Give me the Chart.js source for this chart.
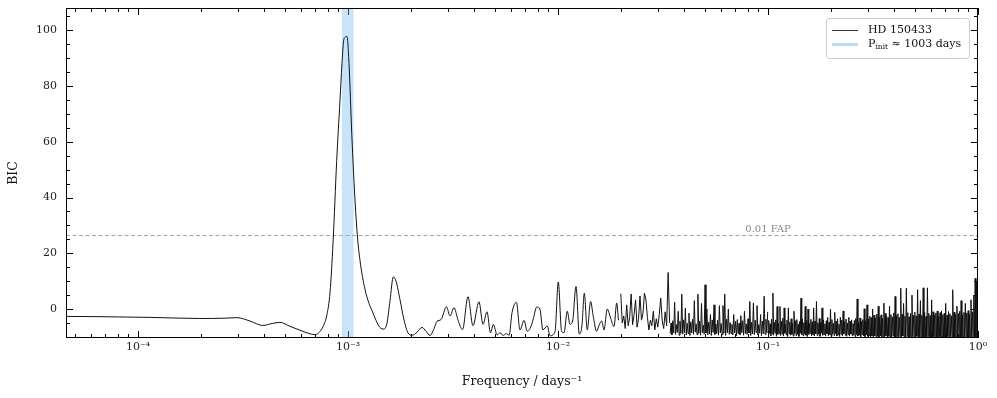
<!DOCTYPE html>
<html><head><meta charset="utf-8">
<script src="https://cdn.jsdelivr.net/npm/chart.js@4.4.0/dist/chart.umd.min.js"></script>
<style>html,body{margin:0;padding:0;background:#fff;}#wrap{width:997px;height:398px;position:relative;}</style>
</head><body><div id="wrap"><canvas id="c"></canvas></div>
<script>
// ---------- data ----------
const seriesName = 'HD 150433';
const bandLabelMain = 'P', bandLabelSub = 'init', bandLabelRest = ' \u2248 1003 days';
const bandLow = 9.35e-4, bandHigh = 1.063e-3;
const fapLevel = 26.6;
const fapLabel = '0.01 FAP';
const fapLabelFreq = 0.1;
const xTickValues = [1e-4, 1e-3, 1e-2, 1e-1, 1];
const xTickLabels = ['10\u207B\u2074', '10\u207B\u00B3', '10\u207B\u00B2', '10\u207B\u00B9', '10\u2070'];
const yTickValues = [0, 20, 40, 60, 80, 100];
const xTitle = 'Frequency / days\u207B\u00B9';
const yTitle = 'BIC';

const freqLow = [4.54e-5,6.59e-5,1.14e-4,1.97e-4,2.59e-4,2.96e-4,3.41e-4,3.93e-4,4.35e-4,4.74e-4,5.29e-4,5.90e-4,6.46e-4,6.97e-4,7.36e-4,7.69e-4,7.94e-4,8.21e-4,8.49e-4,8.83e-4,9.16e-4,9.36e-4,9.52e-4,9.68e-4,9.89e-4,1.011e-3,1.042e-3,1.069e-3,1.107e-3,1.140e-3,1.205e-3,1.259e-3,1.300e-3,1.358e-3,1.419e-3,1.483e-3,1.534e-3,1.585e-3,1.643e-3,1.693e-3,1.769e-3,1.849e-3,1.932e-3,2.018e-3,2.133e-3,2.251e-3,2.352e-3,2.458e-3,2.569e-3,2.654e-3,2.773e-3,2.944e-3,3.061e-3,3.197e-3,3.341e-3,3.51e-3,3.727e-3,3.935e-3,4.204e-3,4.393e-3,4.590e-3,4.77e-3,4.92e-3,5.13e-3,5.30e-3,5.48e-3,5.66e-3,5.85e-3,6.04e-3,6.34e-3,6.59e-3,6.89e-3,7.14e-3,7.36e-3,7.60e-3,7.92e-3,8.20e-3,8.47e-3,8.89e-3,9.16e-3,9.68e-3,1.003e-2,1.040e-2,1.068e-2,1.107e-2,1.140e-2,1.174e-2,1.218e-2,1.263e-2,1.30e-2,1.334e-2,1.378e-2,1.430e-2,1.472e-2,1.527e-2,1.566e-2,1.614e-2,1.656e-2,1.716e-2,1.781e-2,1.848e-2,1.903e-2,1.941e-2];
const bicLow = [-2.65,-2.75,-3.0,-3.4,-3.3,-3.1,-4.3,-5.9,-5.2,-4.8,-6.2,-7.6,-8.7,-9.2,-8.0,-5.5,-2,6,24,53,75,88,96,97.5,97.8,88,63,45,26.6,17.5,7,2,-0.5,-4,-6.6,-7.2,-5,3,11.5,10,3.3,-4,-8.6,-9.4,-8.3,-6.6,-8,-9.5,-7,-4.4,-3.8,0.8,-2.5,0.5,-4,-7.4,4.4,-6,2.6,-5.5,-1,-8.5,-5.5,-9.3,-8.5,-9.5,-8.8,-9.4,-1.3,2.4,-7.5,-4.1,-8,-7,-4,0.7,0,-7.5,-6.1,-9.6,-8,9.7,-8,-8.5,-0.8,-5.5,-4.3,8.1,-9,-6,5.7,-7.5,2.7,-2.7,-8,-6,-4.3,-7.5,0,-3.3,-6.3,2.1,-4];

// denser parts: values read on an even log-frequency grid
const freqSpikeStart = 0.0199, freqSpikeEnd = 0.0340;
const bicSpike = [5.5,-5,-2.5,-7,1.5,-6,-3,5.4,-5.6,-2,3.3,-6.5,-3.5,4.7,-4,-1.5,5.7,3.3,-3,-7.5,-4,-6,-0.8,-7.5,-3.5,-6.5,-2,3.9,-4.3,-7,-1,-6,13.1,-5];
const freqMidStart = 0.0342, freqMidEnd = 0.0997;
const bicMid = [
-8.8,-5,-9.3,-4.2,-8.6,2.4,-9.1,-5.6,-8.4,-0.8,
-9.4,-4.4,-8.7,5.3,-9,-3.9,-8.5,0.3,-9.3,-5.1,
-8.8,-1.5,-9.5,-4.6,-8.6,-3.7,-9.1,3,-8.3,-5.3,
-9.2,5.3,-8.7,-4.3,-9.4,2,-8.5,-5.8,-9,8.7,
-8.6,0,-9.3,-4.7,-8.9,-2,-9.5,-3.9,-8.4,1.5,
-9.1,-5.4,-8.8,-4.1,-9.4,1.2,-8.6,-5.2,-9.2,1.2,
-8.7,5.3,-9.5,-3.6,-8.5,0,-9.1,-4.9,-8.8,-5.5,
-9.3,-2,-8.6,-4.4,-9.6,-3.8,-8.9,-5.1,-9.2,-2.4,
-8.5,-4.2,-9.4,-0.8,-8.8,-5.3,-9.1,-3.5,-8.6,2.7,
-9.5,-4.7,-8.9,2.2,-9.2,-4,-8.4,1.2,-9.3,-5.6,
-8.7,-2,-9.6,-4.3,-8.9,4.6,-9.1,-3.7,-8.6,-1
];
const freqHighStart = 0.1, freqHighEnd = 1.0;
const bicHigh = [
-9.2,-4.1,-8.7,-5.3,-9.6,-3.6,-8.9,5.7,-9.4,-4.8,
-8.6,-3.9,-9.8,0.9,-9.1,-5.2,-8.8,0.9,-9.5,-4.4,
-9,-3.3,-9.7,0.4,-8.7,-5.6,-9.3,-4,-9.9,0.4,
-8.9,-4.7,-9.4,-3.5,-9.1,-5.1,-9.7,-0.8,-8.8,-4.2,
-9.5,-3.8,-9,-5.4,-9.8,-4.5,-8.7,3.9,-9.3,-3.6,
-9.6,-4.9,-8.9,0.9,-9.4,-4.1,-9.9,0,-9.1,-5.2,
-8.8,-3.7,-9.6,-4.6,-9.2,0.4,-9.7,-4.3,-8.9,2.7,
-9.5,-5,-9,-3.4,-9.8,-4.8,-8.7,0.4,-9.4,-3.9,
-9.1,-5.3,-9.7,-4.2,-8.9,-3,-9.6,-4.7,-9.2,-0.1,
-9.8,-3.8,-9,-5.1,-9.5,-1.2,-8.8,-4.4,-9.7,-3.5,
-9.3,-5.5,-9.9,-3,-9.1,-4,-9.6,-0.7,-8.9,-4.6,
-9.4,-3.6,-9.8,-5,-9.2,-3,-9.7,-4.3,-9,-3.9,
-9.6,-5.2,-9.3,-4.1,-9.9,-3.4,-9.1,3.6,-9.7,-4.8,
-9.4,-3.2,-10,-4.5,-9.2,-3.8,-9.6,0.1,-9.9,-4.2,
-9.3,1.5,-9.8,-3.5,-9.5,-2.6,-10.1,-3.1,-9.7,0,
-10.2,-2.2,-9.6,-3.3,-10,-1.8,-9.8,1,-10.3,-2.9,
-9.7,-2.1,-10.1,-3.4,-9.9,2.1,-10.3,-1.6,-9.6,-2.7,
-10.2,-3.1,-9.8,1,-10.1,-2,-10.4,-2.8,-9.7,-1.4,
-10,4.5,-10.3,-2.4,-9.8,-1.7,-10.2,-3,-9.9,7.5,
-10.4,-1.9,-9.7,2,-10.1,-2.6,-10.3,7.5,-9.8,-1.3,
-10.2,-2.8,-10,-1.5,-10.4,5,-9.9,-2.2,-10.1,-1.1,
-10.3,-2.5,-9.8,6.9,-10.2,-1.8,-10,3,-10.4,-2.3,
-9.9,7.6,-10.2,-1.2,-10.1,-2.7,-10.3,7.6,-9.8,-1.6,
-10.2,-2.4,-10,3.3,-10.4,-1,-9.9,-2.1,-10.3,-1.4,
-10.1,-0.7,-10.4,-2.6,-9.9,-1.3,-10.2,-0.7,-10,-2,
-10.4,-1.5,-10.1,2,-10.3,-2.2,-9.9,-0.9,-10.2,-1.7,
-10.4,-2.4,-10,6.9,-10.3,-1.1,-10.1,-2,-10.4,1,
-10.2,-1.6,-10,-0.8,-10.4,3,-10.1,-2.1,-10.3,-1.2,
-10,2,-10.4,-1.4,-10.2,-0.6,-10.3,-1.9,-10.1,3.3,
-10.4,-1,-10.2,5,-10.3,11,-10.1,9.8,-10.4,7
];

// ---------- build ----------
const FONT = "'DejaVu Serif', serif";
Chart.defaults.font.family = FONT;
function gridPoints(vals, f0, f1) {
  const a = Math.log10(f0), b = Math.log10(f1), n = vals.length;
  return vals.map((v, i) => ({x: Math.pow(10, a + i * (b - a) / (n - 1)), y: v}));
}
const lowPoints = freqLow.map((f, i) => ({x: f, y: bicLow[i]}));
const spikePoints = gridPoints(bicSpike, freqSpikeStart, freqSpikeEnd);
const midPoints = gridPoints(bicMid, freqMidStart, freqMidEnd);
const highPoints = gridPoints(bicHigh, freqHighStart, freqHighEnd);

const decor = {
  id: 'decor',
  beforeDatasetsDraw(chart) {
    const {ctx, chartArea: {left, right, top, bottom}, scales: {x, y}} = chart;
    ctx.save();
    ctx.strokeStyle = '#000'; ctx.lineWidth = 1;
    ctx.beginPath();
    const d0 = Math.floor(Math.log10(x.min)), d1 = Math.ceil(Math.log10(x.max));
    for (let d = d0; d <= d1; d++) {
      for (let k = 1; k <= 9; k++) {
        const v = k * Math.pow(10, d);
        if (v < x.min * 0.9999 || v > x.max * 1.0001) continue;
        const px = Math.round(x.getPixelForValue(v)) + 0.5;
        const len = k === 1 ? 7 : 4;
        ctx.moveTo(px, bottom); ctx.lineTo(px, bottom - len);
        ctx.moveTo(px, top); ctx.lineTo(px, top + len);
      }
    }
    for (let v = -10; v <= 105; v += 5) {
      const py = Math.round(y.getPixelForValue(v)) + 0.5;
      const len = (v % 20 === 0) ? 7 : 4;
      ctx.moveTo(left, py); ctx.lineTo(left + len, py);
      ctx.moveTo(right, py); ctx.lineTo(right - len, py);
    }
    ctx.stroke();
    const bx0 = x.getPixelForValue(bandLow), bx1 = x.getPixelForValue(bandHigh);
    ctx.fillStyle = 'rgba(117,187,242,0.4)';
    ctx.fillRect(bx0, top, bx1 - bx0, bottom - top);
    const fy = Math.round(y.getPixelForValue(fapLevel)) + 0.5;
    ctx.setLineDash([4, 2.5]);
    ctx.strokeStyle = '#a8a8a8';
    ctx.beginPath(); ctx.moveTo(left, fy); ctx.lineTo(right, fy); ctx.stroke();
    ctx.setLineDash([]);
    ctx.fillStyle = '#8a8a8a';
    ctx.font = '10px ' + FONT;
    ctx.textAlign = 'center'; ctx.textBaseline = 'bottom';
    ctx.fillText(fapLabel, x.getPixelForValue(fapLabelFreq), fy - 1.5);
    ctx.restore();
  },
  afterDatasetsDraw(chart) {
    const {ctx, chartArea: {left, right, top, bottom}} = chart;
    ctx.save();
    ctx.strokeStyle = '#000'; ctx.lineWidth = 1;
    ctx.strokeRect(left + 0.5, top + 0.5, right - left - 1, bottom - top - 1);
    const lx = 826, ly = 18, lw = 143, lh = 40, r = 3;
    ctx.fillStyle = 'rgba(255,255,255,0.85)';
    ctx.strokeStyle = '#cccccc';
    ctx.beginPath();
    ctx.moveTo(lx + r, ly + 0.5); ctx.lineTo(lx + lw - r, ly + 0.5);
    ctx.arcTo(lx + lw + 0.5, ly + 0.5, lx + lw + 0.5, ly + r, r);
    ctx.lineTo(lx + lw + 0.5, ly + lh - r);
    ctx.arcTo(lx + lw + 0.5, ly + lh + 0.5, lx + lw - r, ly + lh + 0.5, r);
    ctx.lineTo(lx + r, ly + lh + 0.5);
    ctx.arcTo(lx + 0.5, ly + lh + 0.5, lx + 0.5, ly + lh - r, r);
    ctx.lineTo(lx + 0.5, ly + r);
    ctx.arcTo(lx + 0.5, ly + 0.5, lx + r, ly + 0.5, r);
    ctx.closePath(); ctx.fill(); ctx.stroke();
    ctx.strokeStyle = '#333'; ctx.lineWidth = 1;
    ctx.beginPath(); ctx.moveTo(832, 30.5); ctx.lineTo(858, 30.5); ctx.stroke();
    ctx.strokeStyle = 'rgb(190,222,248)'; ctx.lineWidth = 3;
    ctx.beginPath(); ctx.moveTo(832, 44.5); ctx.lineTo(858, 44.5); ctx.stroke();
    ctx.fillStyle = '#111'; ctx.textBaseline = 'middle'; ctx.textAlign = 'left';
    ctx.font = '11px ' + FONT;
    ctx.fillText(seriesName, 868, 30.5);
    let tx = 868;
    ctx.fillText(bandLabelMain, tx, 44.5); tx += ctx.measureText(bandLabelMain).width;
    ctx.font = '7.5px ' + FONT;
    ctx.fillText(bandLabelSub, tx, 47.5); tx += ctx.measureText(bandLabelSub).width;
    ctx.font = '11px ' + FONT;
    ctx.fillText(bandLabelRest, tx, 44.5);
    ctx.restore();
  }
};

const lineStyle = {borderColor: '#111', borderWidth: 1, pointRadius: 0, fill: false};
new Chart(document.getElementById('c'), {
  type: 'line',
  data: {
    datasets: [
      Object.assign({label: seriesName, data: lowPoints, cubicInterpolationMode: 'monotone'}, lineStyle),
      Object.assign({label: seriesName + ' spikes', data: spikePoints, tension: 0}, lineStyle),
      Object.assign({label: seriesName + ' mid', data: midPoints, tension: 0}, lineStyle),
      Object.assign({label: seriesName + ' high', data: highPoints, tension: 0}, lineStyle)
    ]
  },
  options: {
    responsive: true, maintainAspectRatio: false, animation: false, devicePixelRatio: 1,
    layout: {padding: {left: 0, right: 19, top: 8, bottom: 0}},
    plugins: {legend: {display: false}, tooltip: {enabled: false}},
    scales: {
      x: {
        type: 'logarithmic', min: 4.54e-5, max: 1,
        grid: {display: false, drawTicks: false},
        border: {display: false},
        afterBuildTicks: s => { s.ticks = xTickValues.map(v => ({value: v, major: true})); },
        afterFit: s => { s.height = 60; s.paddingLeft = 0; s.paddingRight = 0; },
        ticks: {autoSkip: false, maxRotation: 0, padding: 3, color: '#222', font: {size: 11},
          callback: (v) => { const i = xTickValues.findIndex(t => Math.abs(t - v) / t < 1e-6); return i >= 0 ? xTickLabels[i] : ''; }},
        title: {display: true, text: xTitle, color: '#111', font: {size: 12.5}, padding: {top: 0, bottom: 9}}
      },
      y: {
        type: 'linear', min: -10.4, max: 108,
        grid: {display: false, drawTicks: false},
        border: {display: false},
        afterBuildTicks: s => { s.ticks = yTickValues.map(v => ({value: v})); },
        afterFit: s => { s.width = 66; s.paddingTop = 0; s.paddingBottom = 0; },
        ticks: {padding: 9, color: '#222', font: {size: 11}},
        title: {display: true, text: yTitle, color: '#111', font: {size: 12.5}, padding: {top: 6, bottom: 0}}
      }
    }
  },
  plugins: [decor]
});
</script>
</body></html>
